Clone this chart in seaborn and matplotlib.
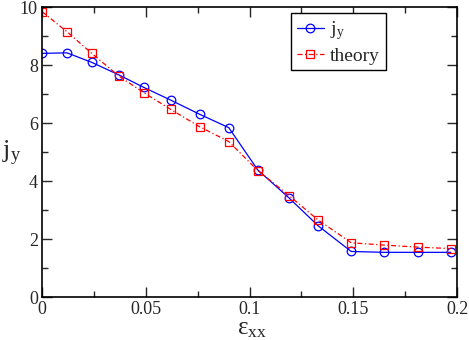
import matplotlib
matplotlib.use("Agg")
import matplotlib.pyplot as plt
import seaborn as sns
import pandas as pd
from matplotlib.ticker import MultipleLocator

strain = [0, 0.012, 0.024, 0.037, 0.049, 0.062, 0.076, 0.090,
          0.104, 0.119, 0.133, 0.149, 0.165, 0.181, 0.197]
jy = [8.40, 8.42, 8.09, 7.66, 7.23, 6.79, 6.30, 5.84,
      4.38, 3.42, 2.46, 1.57, 1.54, 1.54, 1.54]
theory = [9.84, 9.15, 8.40, 7.62, 7.05, 6.47, 5.87, 5.36,
          4.36, 3.50, 2.66, 1.87, 1.79, 1.72, 1.67]

sns.set_style("ticks")
plt.rcParams['font.family'] = ['Liberation Serif', 'DejaVu Serif']
plt.rcParams['mathtext.fontset'] = 'custom'
plt.rcParams['mathtext.rm'] = 'Liberation Serif'
plt.rcParams['mathtext.it'] = 'Liberation Serif'

fig = plt.figure(figsize=(4.69, 3.40), dpi=100)
ax = fig.add_axes([42/469, 1-297/340, (457-42)/469, (297-7)/340])

df = pd.DataFrame({'x': strain, 'jy': jy, 'theory': theory})
sns.lineplot(data=df, x='x', y='jy', ax=ax, color='blue', lw=0.9,
             marker='o', markersize=6.2, markerfacecolor='none',
             markeredgecolor='blue', markeredgewidth=0.9, label='$\\mathregular{j_y}$')
sns.lineplot(data=df, x='x', y='theory', ax=ax, color='red', lw=0.9,
             linestyle=(0, (4, 2, 1, 2)),
             marker='s', markersize=5.6, markerfacecolor='none',
             markeredgecolor='red', markeredgewidth=0.9, label='theory')

ax.set_xlim(0, 0.2)
ax.set_ylim(0, 10)
ax.xaxis.set_major_locator(MultipleLocator(0.05))
ax.xaxis.set_minor_locator(MultipleLocator(0.025))
ax.yaxis.set_major_locator(MultipleLocator(2))
ax.yaxis.set_minor_locator(MultipleLocator(1))
ax.set_xticks([0, 0.05, 0.1, 0.15, 0.2])
ax.set_xticklabels(['0', '0.05', '0.1', '0.15', '0.2'])
ax.tick_params(which='both', direction='in', top=True, right=True, width=1, labelsize=13, pad=3)
ax.tick_params(which='major', length=7)
ax.tick_params(which='minor', length=4)
for s in ax.spines.values():
    s.set_linewidth(1.2)
    s.set_color('black')

ax.set_xlabel('')
ax.set_ylabel('')
fig.text(237/469, 0.5/340, '$\\mathregular{\\epsilon_{xx}}$', fontsize=18,
         ha='left', va='bottom')
fig.text(2/469, 1-168/340, '$\\mathregular{j_y}$', fontsize=19,
         ha='left', va='bottom')

leg = ax.legend(loc='upper left', bbox_to_anchor=(249/415, 0.978), fontsize=14,
                frameon=True, fancybox=False, edgecolor='black', framealpha=1,
                handlelength=1.4, handletextpad=0.3, borderpad=0.3, labelspacing=0.25,
                borderaxespad=0)
leg.get_frame().set_linewidth(1.0)

fig.savefig('out.png', dpi=100)
